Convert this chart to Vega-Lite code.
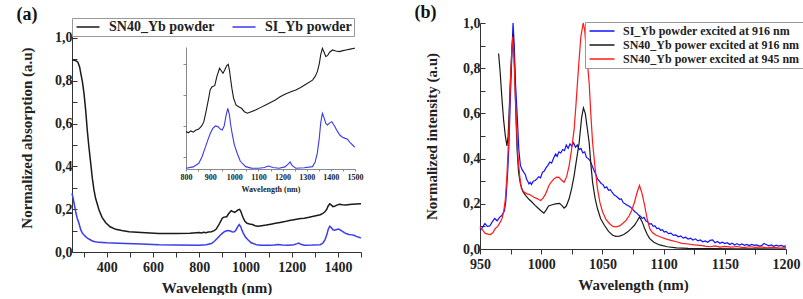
{
  "$schema": "https://vega.github.io/schema/vega-lite/v6.json",
  "background": "white",
  "padding": {"left": 16, "top": 4, "right": 0, "bottom": 0},
  "spacing": 119,
  "bounds": "flush",
  "resolve": {"scale": {"color": "independent"}, "legend": {"color": "independent"}},
  "config": {
    "font": "Liberation Serif, Times New Roman, serif",
    "view": {"stroke": null},
    "axis": {
      "labelFont": "Liberation Serif, Times New Roman, serif", "labelFontWeight": "bold", "labelFontSize": 14, "labelColor": "#222",
      "titleFont": "Liberation Serif, Times New Roman, serif", "titleFontWeight": "bold", "titleFontSize": 15, "titleColor": "#222",
      "domainColor": "#333", "tickColor": "#333", "grid": false
    },
    "legend": {
      "labelFont": "Liberation Serif, Times New Roman, serif", "labelFontWeight": "bold", "labelColor": "#222",
      "strokeColor": "#999", "fillColor": "white"
    },
    "title": {"font": "Liberation Serif, Times New Roman, serif", "fontSize": 18, "fontWeight": "bold", "anchor": "start", "frame": "bounds", "color": "#111"}
  },
  "datasets": {
    "abs": [
      {"series": "SN40_Yb powder", "nm": 250, "v": 0.897},
      {"series": "SN40_Yb powder", "nm": 262, "v": 0.896},
      {"series": "SN40_Yb powder", "nm": 275, "v": 0.888},
      {"series": "SN40_Yb powder", "nm": 283, "v": 0.865},
      {"series": "SN40_Yb powder", "nm": 288, "v": 0.835},
      {"series": "SN40_Yb powder", "nm": 295, "v": 0.796},
      {"series": "SN40_Yb powder", "nm": 302, "v": 0.74},
      {"series": "SN40_Yb powder", "nm": 309, "v": 0.664},
      {"series": "SN40_Yb powder", "nm": 316, "v": 0.57},
      {"series": "SN40_Yb powder", "nm": 323, "v": 0.492},
      {"series": "SN40_Yb powder", "nm": 331, "v": 0.414},
      {"series": "SN40_Yb powder", "nm": 338, "v": 0.344},
      {"series": "SN40_Yb powder", "nm": 345, "v": 0.29},
      {"series": "SN40_Yb powder", "nm": 352, "v": 0.251},
      {"series": "SN40_Yb powder", "nm": 367, "v": 0.196},
      {"series": "SN40_Yb powder", "nm": 380, "v": 0.162},
      {"series": "SN40_Yb powder", "nm": 396, "v": 0.137},
      {"series": "SN40_Yb powder", "nm": 415, "v": 0.118},
      {"series": "SN40_Yb powder", "nm": 439, "v": 0.106},
      {"series": "SN40_Yb powder", "nm": 465, "v": 0.1},
      {"series": "SN40_Yb powder", "nm": 497, "v": 0.095},
      {"series": "SN40_Yb powder", "nm": 550, "v": 0.091},
      {"series": "SN40_Yb powder", "nm": 626, "v": 0.087},
      {"series": "SN40_Yb powder", "nm": 700, "v": 0.087},
      {"series": "SN40_Yb powder", "nm": 760, "v": 0.088},
      {"series": "SN40_Yb powder", "nm": 800, "v": 0.091},
      {"series": "SN40_Yb powder", "nm": 810, "v": 0.089},
      {"series": "SN40_Yb powder", "nm": 820, "v": 0.092},
      {"series": "SN40_Yb powder", "nm": 830, "v": 0.09},
      {"series": "SN40_Yb powder", "nm": 840, "v": 0.093},
      {"series": "SN40_Yb powder", "nm": 853, "v": 0.095},
      {"series": "SN40_Yb powder", "nm": 865, "v": 0.1},
      {"series": "SN40_Yb powder", "nm": 874, "v": 0.107},
      {"series": "SN40_Yb powder", "nm": 884, "v": 0.125},
      {"series": "SN40_Yb powder", "nm": 894, "v": 0.145},
      {"series": "SN40_Yb powder", "nm": 900, "v": 0.158},
      {"series": "SN40_Yb powder", "nm": 907, "v": 0.163},
      {"series": "SN40_Yb powder", "nm": 913, "v": 0.164},
      {"series": "SN40_Yb powder", "nm": 919, "v": 0.165},
      {"series": "SN40_Yb powder", "nm": 928, "v": 0.18},
      {"series": "SN40_Yb powder", "nm": 939, "v": 0.193},
      {"series": "SN40_Yb powder", "nm": 946, "v": 0.189},
      {"series": "SN40_Yb powder", "nm": 953, "v": 0.185},
      {"series": "SN40_Yb powder", "nm": 960, "v": 0.19},
      {"series": "SN40_Yb powder", "nm": 968, "v": 0.197},
      {"series": "SN40_Yb powder", "nm": 975, "v": 0.1995},
      {"series": "SN40_Yb powder", "nm": 980, "v": 0.19},
      {"series": "SN40_Yb powder", "nm": 985, "v": 0.175},
      {"series": "SN40_Yb powder", "nm": 990, "v": 0.161},
      {"series": "SN40_Yb powder", "nm": 997, "v": 0.145},
      {"series": "SN40_Yb powder", "nm": 1007, "v": 0.134},
      {"series": "SN40_Yb powder", "nm": 1018, "v": 0.131},
      {"series": "SN40_Yb powder", "nm": 1030, "v": 0.1285},
      {"series": "SN40_Yb powder", "nm": 1042, "v": 0.123},
      {"series": "SN40_Yb powder", "nm": 1054, "v": 0.1205},
      {"series": "SN40_Yb powder", "nm": 1070, "v": 0.123},
      {"series": "SN40_Yb powder", "nm": 1090, "v": 0.126},
      {"series": "SN40_Yb powder", "nm": 1110, "v": 0.13},
      {"series": "SN40_Yb powder", "nm": 1130, "v": 0.134},
      {"series": "SN40_Yb powder", "nm": 1150, "v": 0.138},
      {"series": "SN40_Yb powder", "nm": 1170, "v": 0.142},
      {"series": "SN40_Yb powder", "nm": 1190, "v": 0.147},
      {"series": "SN40_Yb powder", "nm": 1210, "v": 0.151},
      {"series": "SN40_Yb powder", "nm": 1227, "v": 0.154},
      {"series": "SN40_Yb powder", "nm": 1240, "v": 0.156},
      {"series": "SN40_Yb powder", "nm": 1255, "v": 0.158},
      {"series": "SN40_Yb powder", "nm": 1275, "v": 0.162},
      {"series": "SN40_Yb powder", "nm": 1300, "v": 0.168},
      {"series": "SN40_Yb powder", "nm": 1324, "v": 0.174},
      {"series": "SN40_Yb powder", "nm": 1335, "v": 0.18},
      {"series": "SN40_Yb powder", "nm": 1344, "v": 0.1876},
      {"series": "SN40_Yb powder", "nm": 1352, "v": 0.2},
      {"series": "SN40_Yb powder", "nm": 1358, "v": 0.215},
      {"series": "SN40_Yb powder", "nm": 1365, "v": 0.2253},
      {"series": "SN40_Yb powder", "nm": 1372, "v": 0.219},
      {"series": "SN40_Yb powder", "nm": 1379, "v": 0.212},
      {"series": "SN40_Yb powder", "nm": 1386, "v": 0.2134},
      {"series": "SN40_Yb powder", "nm": 1395, "v": 0.219},
      {"series": "SN40_Yb powder", "nm": 1407, "v": 0.2226},
      {"series": "SN40_Yb powder", "nm": 1420, "v": 0.221},
      {"series": "SN40_Yb powder", "nm": 1435, "v": 0.22},
      {"series": "SN40_Yb powder", "nm": 1450, "v": 0.2215},
      {"series": "SN40_Yb powder", "nm": 1463, "v": 0.2226},
      {"series": "SN40_Yb powder", "nm": 1480, "v": 0.224},
      {"series": "SN40_Yb powder", "nm": 1497, "v": 0.2253},
      {"series": "SN40_Yb powder", "nm": 1500, "v": 0.2255},
      {"series": "SI_Yb powder", "nm": 250, "v": 0.274},
      {"series": "SI_Yb powder", "nm": 255, "v": 0.25},
      {"series": "SI_Yb powder", "nm": 260, "v": 0.222},
      {"series": "SI_Yb powder", "nm": 266, "v": 0.188},
      {"series": "SI_Yb powder", "nm": 272, "v": 0.16},
      {"series": "SI_Yb powder", "nm": 280, "v": 0.134},
      {"series": "SI_Yb powder", "nm": 288, "v": 0.103},
      {"series": "SI_Yb powder", "nm": 295, "v": 0.088},
      {"series": "SI_Yb powder", "nm": 302, "v": 0.079},
      {"series": "SI_Yb powder", "nm": 309, "v": 0.072},
      {"series": "SI_Yb powder", "nm": 320, "v": 0.062},
      {"series": "SI_Yb powder", "nm": 331, "v": 0.056},
      {"series": "SI_Yb powder", "nm": 338, "v": 0.051},
      {"series": "SI_Yb powder", "nm": 350, "v": 0.048},
      {"series": "SI_Yb powder", "nm": 367, "v": 0.045},
      {"series": "SI_Yb powder", "nm": 400, "v": 0.043},
      {"series": "SI_Yb powder", "nm": 482, "v": 0.04},
      {"series": "SI_Yb powder", "nm": 550, "v": 0.037},
      {"series": "SI_Yb powder", "nm": 626, "v": 0.034},
      {"series": "SI_Yb powder", "nm": 700, "v": 0.033},
      {"series": "SI_Yb powder", "nm": 800, "v": 0.0318},
      {"series": "SI_Yb powder", "nm": 830, "v": 0.034},
      {"series": "SI_Yb powder", "nm": 853, "v": 0.0398},
      {"series": "SI_Yb powder", "nm": 866, "v": 0.05},
      {"series": "SI_Yb powder", "nm": 881, "v": 0.0666},
      {"series": "SI_Yb powder", "nm": 891, "v": 0.078},
      {"series": "SI_Yb powder", "nm": 901, "v": 0.0882},
      {"series": "SI_Yb powder", "nm": 911, "v": 0.096},
      {"series": "SI_Yb powder", "nm": 922, "v": 0.1},
      {"series": "SI_Yb powder", "nm": 932, "v": 0.099},
      {"series": "SI_Yb powder", "nm": 942, "v": 0.095},
      {"series": "SI_Yb powder", "nm": 950, "v": 0.0935},
      {"series": "SI_Yb powder", "nm": 958, "v": 0.1},
      {"series": "SI_Yb powder", "nm": 965, "v": 0.115},
      {"series": "SI_Yb powder", "nm": 973, "v": 0.1285},
      {"series": "SI_Yb powder", "nm": 980, "v": 0.118},
      {"series": "SI_Yb powder", "nm": 985, "v": 0.102},
      {"series": "SI_Yb powder", "nm": 991, "v": 0.0882},
      {"series": "SI_Yb powder", "nm": 1000, "v": 0.07},
      {"series": "SI_Yb powder", "nm": 1012, "v": 0.056},
      {"series": "SI_Yb powder", "nm": 1025, "v": 0.043},
      {"series": "SI_Yb powder", "nm": 1047, "v": 0.0344},
      {"series": "SI_Yb powder", "nm": 1070, "v": 0.032},
      {"series": "SI_Yb powder", "nm": 1102, "v": 0.0318},
      {"series": "SI_Yb powder", "nm": 1125, "v": 0.033},
      {"series": "SI_Yb powder", "nm": 1141, "v": 0.0355},
      {"series": "SI_Yb powder", "nm": 1160, "v": 0.033},
      {"series": "SI_Yb powder", "nm": 1185, "v": 0.0318},
      {"series": "SI_Yb powder", "nm": 1210, "v": 0.034},
      {"series": "SI_Yb powder", "nm": 1224, "v": 0.039},
      {"series": "SI_Yb powder", "nm": 1231, "v": 0.042},
      {"series": "SI_Yb powder", "nm": 1240, "v": 0.036},
      {"series": "SI_Yb powder", "nm": 1255, "v": 0.0318},
      {"series": "SI_Yb powder", "nm": 1290, "v": 0.0325},
      {"series": "SI_Yb powder", "nm": 1324, "v": 0.0344},
      {"series": "SI_Yb powder", "nm": 1335, "v": 0.042},
      {"series": "SI_Yb powder", "nm": 1344, "v": 0.0565},
      {"series": "SI_Yb powder", "nm": 1352, "v": 0.08},
      {"series": "SI_Yb powder", "nm": 1358, "v": 0.105},
      {"series": "SI_Yb powder", "nm": 1365, "v": 0.1205},
      {"series": "SI_Yb powder", "nm": 1372, "v": 0.113},
      {"series": "SI_Yb powder", "nm": 1379, "v": 0.104},
      {"series": "SI_Yb powder", "nm": 1386, "v": 0.1016},
      {"series": "SI_Yb powder", "nm": 1395, "v": 0.105},
      {"series": "SI_Yb powder", "nm": 1404, "v": 0.107},
      {"series": "SI_Yb powder", "nm": 1415, "v": 0.1},
      {"series": "SI_Yb powder", "nm": 1428, "v": 0.0908},
      {"series": "SI_Yb powder", "nm": 1438, "v": 0.085},
      {"series": "SI_Yb powder", "nm": 1448, "v": 0.0818},
      {"series": "SI_Yb powder", "nm": 1460, "v": 0.08},
      {"series": "SI_Yb powder", "nm": 1469, "v": 0.0785},
      {"series": "SI_Yb powder", "nm": 1480, "v": 0.073},
      {"series": "SI_Yb powder", "nm": 1497, "v": 0.0666},
      {"series": "SI_Yb powder", "nm": 1500, "v": 0.066}
    ],
    "pl": [
      {"s": "SI_Yb powder excited at 916 nm", "nm": 950, "v": 0.083},
      {"s": "SI_Yb powder excited at 916 nm", "nm": 952, "v": 0.095},
      {"s": "SI_Yb powder excited at 916 nm", "nm": 954, "v": 0.113},
      {"s": "SI_Yb powder excited at 916 nm", "nm": 956, "v": 0.1},
      {"s": "SI_Yb powder excited at 916 nm", "nm": 958, "v": 0.102},
      {"s": "SI_Yb powder excited at 916 nm", "nm": 960, "v": 0.12},
      {"s": "SI_Yb powder excited at 916 nm", "nm": 962, "v": 0.135},
      {"s": "SI_Yb powder excited at 916 nm", "nm": 964, "v": 0.125},
      {"s": "SI_Yb powder excited at 916 nm", "nm": 966, "v": 0.14},
      {"s": "SI_Yb powder excited at 916 nm", "nm": 968, "v": 0.149},
      {"s": "SI_Yb powder excited at 916 nm", "nm": 970, "v": 0.17},
      {"s": "SI_Yb powder excited at 916 nm", "nm": 971, "v": 0.207},
      {"s": "SI_Yb powder excited at 916 nm", "nm": 972.5, "v": 0.33},
      {"s": "SI_Yb powder excited at 916 nm", "nm": 973.5, "v": 0.44},
      {"s": "SI_Yb powder excited at 916 nm", "nm": 975, "v": 0.7},
      {"s": "SI_Yb powder excited at 916 nm", "nm": 975.7, "v": 0.807},
      {"s": "SI_Yb powder excited at 916 nm", "nm": 977, "v": 1.0},
      {"s": "SI_Yb powder excited at 916 nm", "nm": 978, "v": 0.9},
      {"s": "SI_Yb powder excited at 916 nm", "nm": 979, "v": 0.734},
      {"s": "SI_Yb powder excited at 916 nm", "nm": 980.5, "v": 0.58},
      {"s": "SI_Yb powder excited at 916 nm", "nm": 981.7, "v": 0.44},
      {"s": "SI_Yb powder excited at 916 nm", "nm": 983, "v": 0.37},
      {"s": "SI_Yb powder excited at 916 nm", "nm": 984.5, "v": 0.35},
      {"s": "SI_Yb powder excited at 916 nm", "nm": 985.8, "v": 0.339},
      {"s": "SI_Yb powder excited at 916 nm", "nm": 987, "v": 0.33},
      {"s": "SI_Yb powder excited at 916 nm", "nm": 988, "v": 0.31},
      {"s": "SI_Yb powder excited at 916 nm", "nm": 989, "v": 0.3},
      {"s": "SI_Yb powder excited at 916 nm", "nm": 990, "v": 0.288},
      {"s": "SI_Yb powder excited at 916 nm", "nm": 991, "v": 0.295},
      {"s": "SI_Yb powder excited at 916 nm", "nm": 992, "v": 0.285},
      {"s": "SI_Yb powder excited at 916 nm", "nm": 993.5, "v": 0.3},
      {"s": "SI_Yb powder excited at 916 nm", "nm": 995, "v": 0.303},
      {"s": "SI_Yb powder excited at 916 nm", "nm": 996.5, "v": 0.31},
      {"s": "SI_Yb powder excited at 916 nm", "nm": 998, "v": 0.32},
      {"s": "SI_Yb powder excited at 916 nm", "nm": 999.5, "v": 0.315},
      {"s": "SI_Yb powder excited at 916 nm", "nm": 1001, "v": 0.339},
      {"s": "SI_Yb powder excited at 916 nm", "nm": 1002.5, "v": 0.345},
      {"s": "SI_Yb powder excited at 916 nm", "nm": 1004, "v": 0.36},
      {"s": "SI_Yb powder excited at 916 nm", "nm": 1005.5, "v": 0.37},
      {"s": "SI_Yb powder excited at 916 nm", "nm": 1007, "v": 0.385},
      {"s": "SI_Yb powder excited at 916 nm", "nm": 1008.5, "v": 0.38},
      {"s": "SI_Yb powder excited at 916 nm", "nm": 1010, "v": 0.4},
      {"s": "SI_Yb powder excited at 916 nm", "nm": 1011.8, "v": 0.42},
      {"s": "SI_Yb powder excited at 916 nm", "nm": 1013, "v": 0.41},
      {"s": "SI_Yb powder excited at 916 nm", "nm": 1014.5, "v": 0.43},
      {"s": "SI_Yb powder excited at 916 nm", "nm": 1016, "v": 0.425},
      {"s": "SI_Yb powder excited at 916 nm", "nm": 1017.5, "v": 0.44},
      {"s": "SI_Yb powder excited at 916 nm", "nm": 1019, "v": 0.435},
      {"s": "SI_Yb powder excited at 916 nm", "nm": 1020.5, "v": 0.46},
      {"s": "SI_Yb powder excited at 916 nm", "nm": 1022, "v": 0.445},
      {"s": "SI_Yb powder excited at 916 nm", "nm": 1023.5, "v": 0.465},
      {"s": "SI_Yb powder excited at 916 nm", "nm": 1025, "v": 0.455},
      {"s": "SI_Yb powder excited at 916 nm", "nm": 1026.5, "v": 0.47},
      {"s": "SI_Yb powder excited at 916 nm", "nm": 1028, "v": 0.45},
      {"s": "SI_Yb powder excited at 916 nm", "nm": 1029.5, "v": 0.46},
      {"s": "SI_Yb powder excited at 916 nm", "nm": 1031, "v": 0.44},
      {"s": "SI_Yb powder excited at 916 nm", "nm": 1032.5, "v": 0.445},
      {"s": "SI_Yb powder excited at 916 nm", "nm": 1034, "v": 0.425},
      {"s": "SI_Yb powder excited at 916 nm", "nm": 1035.5, "v": 0.43},
      {"s": "SI_Yb powder excited at 916 nm", "nm": 1037, "v": 0.405},
      {"s": "SI_Yb powder excited at 916 nm", "nm": 1038.5, "v": 0.4},
      {"s": "SI_Yb powder excited at 916 nm", "nm": 1040, "v": 0.39},
      {"s": "SI_Yb powder excited at 916 nm", "nm": 1041.5, "v": 0.37},
      {"s": "SI_Yb powder excited at 916 nm", "nm": 1043, "v": 0.35},
      {"s": "SI_Yb powder excited at 916 nm", "nm": 1044.7, "v": 0.33},
      {"s": "SI_Yb powder excited at 916 nm", "nm": 1046, "v": 0.31},
      {"s": "SI_Yb powder excited at 916 nm", "nm": 1047.5, "v": 0.3},
      {"s": "SI_Yb powder excited at 916 nm", "nm": 1049, "v": 0.29},
      {"s": "SI_Yb powder excited at 916 nm", "nm": 1050.5, "v": 0.285},
      {"s": "SI_Yb powder excited at 916 nm", "nm": 1052, "v": 0.27},
      {"s": "SI_Yb powder excited at 916 nm", "nm": 1053.5, "v": 0.275},
      {"s": "SI_Yb powder excited at 916 nm", "nm": 1055, "v": 0.26},
      {"s": "SI_Yb powder excited at 916 nm", "nm": 1056.5, "v": 0.262},
      {"s": "SI_Yb powder excited at 916 nm", "nm": 1058, "v": 0.25},
      {"s": "SI_Yb powder excited at 916 nm", "nm": 1059.5, "v": 0.24},
      {"s": "SI_Yb powder excited at 916 nm", "nm": 1061, "v": 0.235},
      {"s": "SI_Yb powder excited at 916 nm", "nm": 1062.5, "v": 0.228},
      {"s": "SI_Yb powder excited at 916 nm", "nm": 1064, "v": 0.22},
      {"s": "SI_Yb powder excited at 916 nm", "nm": 1065.5, "v": 0.222},
      {"s": "SI_Yb powder excited at 916 nm", "nm": 1067, "v": 0.205},
      {"s": "SI_Yb powder excited at 916 nm", "nm": 1068.5, "v": 0.2},
      {"s": "SI_Yb powder excited at 916 nm", "nm": 1070, "v": 0.195},
      {"s": "SI_Yb powder excited at 916 nm", "nm": 1071.5, "v": 0.19},
      {"s": "SI_Yb powder excited at 916 nm", "nm": 1073, "v": 0.185},
      {"s": "SI_Yb powder excited at 916 nm", "nm": 1074.8, "v": 0.175},
      {"s": "SI_Yb powder excited at 916 nm", "nm": 1076.5, "v": 0.165},
      {"s": "SI_Yb powder excited at 916 nm", "nm": 1078, "v": 0.16},
      {"s": "SI_Yb powder excited at 916 nm", "nm": 1079.5, "v": 0.15},
      {"s": "SI_Yb powder excited at 916 nm", "nm": 1081, "v": 0.145},
      {"s": "SI_Yb powder excited at 916 nm", "nm": 1082.5, "v": 0.135},
      {"s": "SI_Yb powder excited at 916 nm", "nm": 1084, "v": 0.14},
      {"s": "SI_Yb powder excited at 916 nm", "nm": 1085.5, "v": 0.125},
      {"s": "SI_Yb powder excited at 916 nm", "nm": 1087, "v": 0.12},
      {"s": "SI_Yb powder excited at 916 nm", "nm": 1088.5, "v": 0.11},
      {"s": "SI_Yb powder excited at 916 nm", "nm": 1090, "v": 0.112},
      {"s": "SI_Yb powder excited at 916 nm", "nm": 1091.5, "v": 0.1},
      {"s": "SI_Yb powder excited at 916 nm", "nm": 1093, "v": 0.102},
      {"s": "SI_Yb powder excited at 916 nm", "nm": 1094.5, "v": 0.09},
      {"s": "SI_Yb powder excited at 916 nm", "nm": 1096, "v": 0.092},
      {"s": "SI_Yb powder excited at 916 nm", "nm": 1097.5, "v": 0.083},
      {"s": "SI_Yb powder excited at 916 nm", "nm": 1099, "v": 0.085},
      {"s": "SI_Yb powder excited at 916 nm", "nm": 1100.5, "v": 0.075},
      {"s": "SI_Yb powder excited at 916 nm", "nm": 1102, "v": 0.078},
      {"s": "SI_Yb powder excited at 916 nm", "nm": 1104, "v": 0.068},
      {"s": "SI_Yb powder excited at 916 nm", "nm": 1106, "v": 0.07},
      {"s": "SI_Yb powder excited at 916 nm", "nm": 1108, "v": 0.06},
      {"s": "SI_Yb powder excited at 916 nm", "nm": 1110, "v": 0.062},
      {"s": "SI_Yb powder excited at 916 nm", "nm": 1112, "v": 0.054},
      {"s": "SI_Yb powder excited at 916 nm", "nm": 1114, "v": 0.058},
      {"s": "SI_Yb powder excited at 916 nm", "nm": 1116, "v": 0.048},
      {"s": "SI_Yb powder excited at 916 nm", "nm": 1118, "v": 0.052},
      {"s": "SI_Yb powder excited at 916 nm", "nm": 1120, "v": 0.044},
      {"s": "SI_Yb powder excited at 916 nm", "nm": 1122, "v": 0.048},
      {"s": "SI_Yb powder excited at 916 nm", "nm": 1124, "v": 0.04},
      {"s": "SI_Yb powder excited at 916 nm", "nm": 1126, "v": 0.045},
      {"s": "SI_Yb powder excited at 916 nm", "nm": 1128, "v": 0.036},
      {"s": "SI_Yb powder excited at 916 nm", "nm": 1130, "v": 0.04},
      {"s": "SI_Yb powder excited at 916 nm", "nm": 1132, "v": 0.032},
      {"s": "SI_Yb powder excited at 916 nm", "nm": 1134, "v": 0.036},
      {"s": "SI_Yb powder excited at 916 nm", "nm": 1136, "v": 0.03},
      {"s": "SI_Yb powder excited at 916 nm", "nm": 1138, "v": 0.038},
      {"s": "SI_Yb powder excited at 916 nm", "nm": 1140, "v": 0.04},
      {"s": "SI_Yb powder excited at 916 nm", "nm": 1142, "v": 0.028},
      {"s": "SI_Yb powder excited at 916 nm", "nm": 1144, "v": 0.033},
      {"s": "SI_Yb powder excited at 916 nm", "nm": 1146, "v": 0.025},
      {"s": "SI_Yb powder excited at 916 nm", "nm": 1148, "v": 0.03},
      {"s": "SI_Yb powder excited at 916 nm", "nm": 1150, "v": 0.024},
      {"s": "SI_Yb powder excited at 916 nm", "nm": 1152, "v": 0.028},
      {"s": "SI_Yb powder excited at 916 nm", "nm": 1154, "v": 0.02},
      {"s": "SI_Yb powder excited at 916 nm", "nm": 1156, "v": 0.026},
      {"s": "SI_Yb powder excited at 916 nm", "nm": 1158, "v": 0.018},
      {"s": "SI_Yb powder excited at 916 nm", "nm": 1160, "v": 0.024},
      {"s": "SI_Yb powder excited at 916 nm", "nm": 1162, "v": 0.017},
      {"s": "SI_Yb powder excited at 916 nm", "nm": 1164, "v": 0.022},
      {"s": "SI_Yb powder excited at 916 nm", "nm": 1166, "v": 0.016},
      {"s": "SI_Yb powder excited at 916 nm", "nm": 1168, "v": 0.02},
      {"s": "SI_Yb powder excited at 916 nm", "nm": 1170, "v": 0.015},
      {"s": "SI_Yb powder excited at 916 nm", "nm": 1172, "v": 0.02},
      {"s": "SI_Yb powder excited at 916 nm", "nm": 1174, "v": 0.016},
      {"s": "SI_Yb powder excited at 916 nm", "nm": 1176, "v": 0.018},
      {"s": "SI_Yb powder excited at 916 nm", "nm": 1178, "v": 0.013},
      {"s": "SI_Yb powder excited at 916 nm", "nm": 1180, "v": 0.015},
      {"s": "SI_Yb powder excited at 916 nm", "nm": 1182, "v": 0.024},
      {"s": "SI_Yb powder excited at 916 nm", "nm": 1184, "v": 0.019},
      {"s": "SI_Yb powder excited at 916 nm", "nm": 1186, "v": 0.014},
      {"s": "SI_Yb powder excited at 916 nm", "nm": 1188, "v": 0.018},
      {"s": "SI_Yb powder excited at 916 nm", "nm": 1190, "v": 0.012},
      {"s": "SI_Yb powder excited at 916 nm", "nm": 1192, "v": 0.017},
      {"s": "SI_Yb powder excited at 916 nm", "nm": 1194, "v": 0.013},
      {"s": "SI_Yb powder excited at 916 nm", "nm": 1196, "v": 0.016},
      {"s": "SI_Yb powder excited at 916 nm", "nm": 1198, "v": 0.012},
      {"s": "SI_Yb powder excited at 916 nm", "nm": 1200, "v": 0.014},
      {"s": "SN40_Yb power excited at 916 nm", "nm": 965.2, "v": 0.865},
      {"s": "SN40_Yb power excited at 916 nm", "nm": 966.5, "v": 0.78},
      {"s": "SN40_Yb power excited at 916 nm", "nm": 968, "v": 0.66},
      {"s": "SN40_Yb power excited at 916 nm", "nm": 969.3, "v": 0.57},
      {"s": "SN40_Yb power excited at 916 nm", "nm": 970.7, "v": 0.5},
      {"s": "SN40_Yb power excited at 916 nm", "nm": 972, "v": 0.456},
      {"s": "SN40_Yb power excited at 916 nm", "nm": 973, "v": 0.5},
      {"s": "SN40_Yb power excited at 916 nm", "nm": 974.5, "v": 0.7},
      {"s": "SN40_Yb power excited at 916 nm", "nm": 976, "v": 0.88},
      {"s": "SN40_Yb power excited at 916 nm", "nm": 977, "v": 0.95},
      {"s": "SN40_Yb power excited at 916 nm", "nm": 978, "v": 0.85},
      {"s": "SN40_Yb power excited at 916 nm", "nm": 979, "v": 0.65},
      {"s": "SN40_Yb power excited at 916 nm", "nm": 980.3, "v": 0.44},
      {"s": "SN40_Yb power excited at 916 nm", "nm": 981.5, "v": 0.34},
      {"s": "SN40_Yb power excited at 916 nm", "nm": 983, "v": 0.288},
      {"s": "SN40_Yb power excited at 916 nm", "nm": 985, "v": 0.255},
      {"s": "SN40_Yb power excited at 916 nm", "nm": 987.2, "v": 0.237},
      {"s": "SN40_Yb power excited at 916 nm", "nm": 990, "v": 0.22},
      {"s": "SN40_Yb power excited at 916 nm", "nm": 992.6, "v": 0.207},
      {"s": "SN40_Yb power excited at 916 nm", "nm": 995, "v": 0.193},
      {"s": "SN40_Yb power excited at 916 nm", "nm": 998, "v": 0.178},
      {"s": "SN40_Yb power excited at 916 nm", "nm": 1000, "v": 0.168},
      {"s": "SN40_Yb power excited at 916 nm", "nm": 1002.2, "v": 0.159},
      {"s": "SN40_Yb power excited at 916 nm", "nm": 1004, "v": 0.172},
      {"s": "SN40_Yb power excited at 916 nm", "nm": 1006, "v": 0.19},
      {"s": "SN40_Yb power excited at 916 nm", "nm": 1009, "v": 0.196},
      {"s": "SN40_Yb power excited at 916 nm", "nm": 1011.8, "v": 0.2},
      {"s": "SN40_Yb power excited at 916 nm", "nm": 1015, "v": 0.202},
      {"s": "SN40_Yb power excited at 916 nm", "nm": 1017, "v": 0.192},
      {"s": "SN40_Yb power excited at 916 nm", "nm": 1018.7, "v": 0.181},
      {"s": "SN40_Yb power excited at 916 nm", "nm": 1020.5, "v": 0.19},
      {"s": "SN40_Yb power excited at 916 nm", "nm": 1022.8, "v": 0.222},
      {"s": "SN40_Yb power excited at 916 nm", "nm": 1025, "v": 0.27},
      {"s": "SN40_Yb power excited at 916 nm", "nm": 1026.9, "v": 0.325},
      {"s": "SN40_Yb power excited at 916 nm", "nm": 1029, "v": 0.4},
      {"s": "SN40_Yb power excited at 916 nm", "nm": 1031, "v": 0.47},
      {"s": "SN40_Yb power excited at 916 nm", "nm": 1033, "v": 0.58},
      {"s": "SN40_Yb power excited at 916 nm", "nm": 1034.5, "v": 0.624},
      {"s": "SN40_Yb power excited at 916 nm", "nm": 1036, "v": 0.6},
      {"s": "SN40_Yb power excited at 916 nm", "nm": 1037.5, "v": 0.54},
      {"s": "SN40_Yb power excited at 916 nm", "nm": 1039.2, "v": 0.47},
      {"s": "SN40_Yb power excited at 916 nm", "nm": 1040.5, "v": 0.38},
      {"s": "SN40_Yb power excited at 916 nm", "nm": 1042, "v": 0.295},
      {"s": "SN40_Yb power excited at 916 nm", "nm": 1044, "v": 0.225},
      {"s": "SN40_Yb power excited at 916 nm", "nm": 1046, "v": 0.178},
      {"s": "SN40_Yb power excited at 916 nm", "nm": 1048.5, "v": 0.135},
      {"s": "SN40_Yb power excited at 916 nm", "nm": 1051.6, "v": 0.105},
      {"s": "SN40_Yb power excited at 916 nm", "nm": 1055, "v": 0.078},
      {"s": "SN40_Yb power excited at 916 nm", "nm": 1058.4, "v": 0.061},
      {"s": "SN40_Yb power excited at 916 nm", "nm": 1061, "v": 0.056},
      {"s": "SN40_Yb power excited at 916 nm", "nm": 1064, "v": 0.057},
      {"s": "SN40_Yb power excited at 916 nm", "nm": 1067.5, "v": 0.064},
      {"s": "SN40_Yb power excited at 916 nm", "nm": 1070.7, "v": 0.076},
      {"s": "SN40_Yb power excited at 916 nm", "nm": 1073.5, "v": 0.09},
      {"s": "SN40_Yb power excited at 916 nm", "nm": 1076.2, "v": 0.105},
      {"s": "SN40_Yb power excited at 916 nm", "nm": 1078.5, "v": 0.125},
      {"s": "SN40_Yb power excited at 916 nm", "nm": 1080.3, "v": 0.142},
      {"s": "SN40_Yb power excited at 916 nm", "nm": 1082.5, "v": 0.12},
      {"s": "SN40_Yb power excited at 916 nm", "nm": 1084.5, "v": 0.091},
      {"s": "SN40_Yb power excited at 916 nm", "nm": 1086.5, "v": 0.066},
      {"s": "SN40_Yb power excited at 916 nm", "nm": 1088.5, "v": 0.047},
      {"s": "SN40_Yb power excited at 916 nm", "nm": 1092, "v": 0.03},
      {"s": "SN40_Yb power excited at 916 nm", "nm": 1096.8, "v": 0.018},
      {"s": "SN40_Yb power excited at 916 nm", "nm": 1103, "v": 0.01},
      {"s": "SN40_Yb power excited at 916 nm", "nm": 1110.5, "v": 0.005},
      {"s": "SN40_Yb power excited at 916 nm", "nm": 1120, "v": 0.003},
      {"s": "SN40_Yb power excited at 916 nm", "nm": 1140, "v": 0.002},
      {"s": "SN40_Yb power excited at 916 nm", "nm": 1160, "v": 0.001},
      {"s": "SN40_Yb power excited at 916 nm", "nm": 1200, "v": 0.0},
      {"s": "SN40_Yb power excited at 945 nm", "nm": 950, "v": 0.098},
      {"s": "SN40_Yb power excited at 945 nm", "nm": 952, "v": 0.085},
      {"s": "SN40_Yb power excited at 945 nm", "nm": 954.3, "v": 0.069},
      {"s": "SN40_Yb power excited at 945 nm", "nm": 956.5, "v": 0.066},
      {"s": "SN40_Yb power excited at 945 nm", "nm": 958.4, "v": 0.064},
      {"s": "SN40_Yb power excited at 945 nm", "nm": 960.5, "v": 0.072},
      {"s": "SN40_Yb power excited at 945 nm", "nm": 962.5, "v": 0.091},
      {"s": "SN40_Yb power excited at 945 nm", "nm": 964.5, "v": 0.1},
      {"s": "SN40_Yb power excited at 945 nm", "nm": 966.6, "v": 0.12},
      {"s": "SN40_Yb power excited at 945 nm", "nm": 968, "v": 0.135},
      {"s": "SN40_Yb power excited at 945 nm", "nm": 969.3, "v": 0.164},
      {"s": "SN40_Yb power excited at 945 nm", "nm": 970.7, "v": 0.22},
      {"s": "SN40_Yb power excited at 945 nm", "nm": 972, "v": 0.325},
      {"s": "SN40_Yb power excited at 945 nm", "nm": 973.5, "v": 0.5},
      {"s": "SN40_Yb power excited at 945 nm", "nm": 974.8, "v": 0.734},
      {"s": "SN40_Yb power excited at 945 nm", "nm": 976, "v": 0.88},
      {"s": "SN40_Yb power excited at 945 nm", "nm": 976.7, "v": 0.94},
      {"s": "SN40_Yb power excited at 945 nm", "nm": 977.5, "v": 0.88},
      {"s": "SN40_Yb power excited at 945 nm", "nm": 979, "v": 0.66},
      {"s": "SN40_Yb power excited at 945 nm", "nm": 980, "v": 0.52},
      {"s": "SN40_Yb power excited at 945 nm", "nm": 981, "v": 0.412},
      {"s": "SN40_Yb power excited at 945 nm", "nm": 982.5, "v": 0.32},
      {"s": "SN40_Yb power excited at 945 nm", "nm": 983.9, "v": 0.266},
      {"s": "SN40_Yb power excited at 945 nm", "nm": 986, "v": 0.252},
      {"s": "SN40_Yb power excited at 945 nm", "nm": 988.5, "v": 0.244},
      {"s": "SN40_Yb power excited at 945 nm", "nm": 991, "v": 0.24},
      {"s": "SN40_Yb power excited at 945 nm", "nm": 994, "v": 0.229},
      {"s": "SN40_Yb power excited at 945 nm", "nm": 997, "v": 0.222},
      {"s": "SN40_Yb power excited at 945 nm", "nm": 999.5, "v": 0.215},
      {"s": "SN40_Yb power excited at 945 nm", "nm": 1001.5, "v": 0.225},
      {"s": "SN40_Yb power excited at 945 nm", "nm": 1003.6, "v": 0.244},
      {"s": "SN40_Yb power excited at 945 nm", "nm": 1005, "v": 0.262},
      {"s": "SN40_Yb power excited at 945 nm", "nm": 1006.3, "v": 0.281},
      {"s": "SN40_Yb power excited at 945 nm", "nm": 1008, "v": 0.295},
      {"s": "SN40_Yb power excited at 945 nm", "nm": 1010.4, "v": 0.31},
      {"s": "SN40_Yb power excited at 945 nm", "nm": 1012.5, "v": 0.318},
      {"s": "SN40_Yb power excited at 945 nm", "nm": 1014.6, "v": 0.317},
      {"s": "SN40_Yb power excited at 945 nm", "nm": 1016.5, "v": 0.305},
      {"s": "SN40_Yb power excited at 945 nm", "nm": 1018.7, "v": 0.295},
      {"s": "SN40_Yb power excited at 945 nm", "nm": 1020.8, "v": 0.32},
      {"s": "SN40_Yb power excited at 945 nm", "nm": 1022.8, "v": 0.368},
      {"s": "SN40_Yb power excited at 945 nm", "nm": 1024.8, "v": 0.44},
      {"s": "SN40_Yb power excited at 945 nm", "nm": 1026.9, "v": 0.529},
      {"s": "SN40_Yb power excited at 945 nm", "nm": 1028.3, "v": 0.63},
      {"s": "SN40_Yb power excited at 945 nm", "nm": 1029.6, "v": 0.734},
      {"s": "SN40_Yb power excited at 945 nm", "nm": 1031, "v": 0.84},
      {"s": "SN40_Yb power excited at 945 nm", "nm": 1032.4, "v": 0.94},
      {"s": "SN40_Yb power excited at 945 nm", "nm": 1034.3, "v": 1.0},
      {"s": "SN40_Yb power excited at 945 nm", "nm": 1035.5, "v": 0.97},
      {"s": "SN40_Yb power excited at 945 nm", "nm": 1037, "v": 0.87},
      {"s": "SN40_Yb power excited at 945 nm", "nm": 1039.2, "v": 0.734},
      {"s": "SN40_Yb power excited at 945 nm", "nm": 1040.5, "v": 0.6},
      {"s": "SN40_Yb power excited at 945 nm", "nm": 1042, "v": 0.47},
      {"s": "SN40_Yb power excited at 945 nm", "nm": 1044, "v": 0.36},
      {"s": "SN40_Yb power excited at 945 nm", "nm": 1046, "v": 0.266},
      {"s": "SN40_Yb power excited at 945 nm", "nm": 1048, "v": 0.205},
      {"s": "SN40_Yb power excited at 945 nm", "nm": 1050.2, "v": 0.164},
      {"s": "SN40_Yb power excited at 945 nm", "nm": 1053, "v": 0.13},
      {"s": "SN40_Yb power excited at 945 nm", "nm": 1055.7, "v": 0.113},
      {"s": "SN40_Yb power excited at 945 nm", "nm": 1058.5, "v": 0.1},
      {"s": "SN40_Yb power excited at 945 nm", "nm": 1061.2, "v": 0.098},
      {"s": "SN40_Yb power excited at 945 nm", "nm": 1064, "v": 0.102},
      {"s": "SN40_Yb power excited at 945 nm", "nm": 1066.6, "v": 0.113},
      {"s": "SN40_Yb power excited at 945 nm", "nm": 1069.5, "v": 0.128},
      {"s": "SN40_Yb power excited at 945 nm", "nm": 1072.1, "v": 0.149},
      {"s": "SN40_Yb power excited at 945 nm", "nm": 1074.2, "v": 0.175},
      {"s": "SN40_Yb power excited at 945 nm", "nm": 1076.2, "v": 0.207},
      {"s": "SN40_Yb power excited at 945 nm", "nm": 1078.3, "v": 0.25},
      {"s": "SN40_Yb power excited at 945 nm", "nm": 1080.3, "v": 0.281},
      {"s": "SN40_Yb power excited at 945 nm", "nm": 1082.4, "v": 0.245},
      {"s": "SN40_Yb power excited at 945 nm", "nm": 1084.5, "v": 0.193},
      {"s": "SN40_Yb power excited at 945 nm", "nm": 1086.5, "v": 0.135},
      {"s": "SN40_Yb power excited at 945 nm", "nm": 1088.6, "v": 0.091},
      {"s": "SN40_Yb power excited at 945 nm", "nm": 1091, "v": 0.072},
      {"s": "SN40_Yb power excited at 945 nm", "nm": 1094, "v": 0.061},
      {"s": "SN40_Yb power excited at 945 nm", "nm": 1098, "v": 0.052},
      {"s": "SN40_Yb power excited at 945 nm", "nm": 1102.3, "v": 0.044},
      {"s": "SN40_Yb power excited at 945 nm", "nm": 1106, "v": 0.038},
      {"s": "SN40_Yb power excited at 945 nm", "nm": 1110.5, "v": 0.032},
      {"s": "SN40_Yb power excited at 945 nm", "nm": 1115, "v": 0.025},
      {"s": "SN40_Yb power excited at 945 nm", "nm": 1120, "v": 0.022},
      {"s": "SN40_Yb power excited at 945 nm", "nm": 1125, "v": 0.018},
      {"s": "SN40_Yb power excited at 945 nm", "nm": 1130, "v": 0.016},
      {"s": "SN40_Yb power excited at 945 nm", "nm": 1135, "v": 0.012},
      {"s": "SN40_Yb power excited at 945 nm", "nm": 1138, "v": 0.01},
      {"s": "SN40_Yb power excited at 945 nm", "nm": 1142, "v": 0.014},
      {"s": "SN40_Yb power excited at 945 nm", "nm": 1146, "v": 0.008},
      {"s": "SN40_Yb power excited at 945 nm", "nm": 1150, "v": 0.012},
      {"s": "SN40_Yb power excited at 945 nm", "nm": 1155, "v": 0.008},
      {"s": "SN40_Yb power excited at 945 nm", "nm": 1160, "v": 0.011},
      {"s": "SN40_Yb power excited at 945 nm", "nm": 1165, "v": 0.006},
      {"s": "SN40_Yb power excited at 945 nm", "nm": 1170, "v": 0.01},
      {"s": "SN40_Yb power excited at 945 nm", "nm": 1175, "v": 0.007},
      {"s": "SN40_Yb power excited at 945 nm", "nm": 1180, "v": 0.009},
      {"s": "SN40_Yb power excited at 945 nm", "nm": 1185, "v": 0.005},
      {"s": "SN40_Yb power excited at 945 nm", "nm": 1190, "v": 0.008},
      {"s": "SN40_Yb power excited at 945 nm", "nm": 1195, "v": 0.004},
      {"s": "SN40_Yb power excited at 945 nm", "nm": 1200, "v": 0.006}
    ]
  },
  "hconcat": [
    {
      "title": {"text": "(a)", "offset": -6, "dx": -3},
      "width": 289,
      "height": 229,
      "data": {"name": "abs"},
      "layer": [
        {
          "mark": {"type": "line", "strokeWidth": 1.5},
          "encoding": {
            "x": {"field": "nm", "type": "quantitative",
              "scale": {"domain": [250, 1500], "nice": false},
              "axis": {"orient": "bottom", "title": "Wavelength (nm)", "values": [300, 400, 500, 600, 700, 800, 900, 1000, 1100, 1200, 1300, 1400, 1500],
                "labelExpr": "datum.value % 200 == 0 && datum.value < 1500 ? format(datum.value, 'd') : ''", "tickSize": 5, "labelPadding": 3, "titlePadding": 6, "labelFlush": false}},
            "y": {"field": "v", "type": "quantitative",
              "scale": {"domain": [0, 1.07], "nice": false},
              "axis": {"orient": "left", "title": "Normalized absorption (a.u)", "values": [0, 0.1, 0.2, 0.3, 0.4, 0.5, 0.6, 0.7, 0.8, 0.9, 1.0],
                "labelExpr": "round(datum.value*10) % 2 == 0 ? replace(format(datum.value, '.1f'), '.', ',') : ''", "tickSize": -5, "labelPadding": 5, "titlePadding": 20}},
            "color": {"field": "series", "type": "nominal",
              "scale": {"domain": ["SN40_Yb powder", "SI_Yb powder"], "range": ["#1a1a1a", "#3a3aee"]},
              "legend": {"title": null, "orient": "none", "legendX": 0, "legendY": -5, "direction": "horizontal",
                "symbolType": "M-2.3,0L2.3,0", "symbolSize": 100, "symbolOffset": 7, "symbolStrokeWidth": 1.5,
                "labelFontSize": 14, "padding": 2, "columnPadding": 14, "labelOffset": 14}}
          }
        },
        {
          "transform": [{"filter": "datum.nm >= 800"}],
          "mark": {"type": "line", "strokeWidth": 1.1},
          "encoding": {
            "x": {"field": "nm", "type": "quantitative",
              "scale": {"domain": [800, 1500], "range": [114, 283], "nice": false},
              "axis": {"orient": "bottom", "offset": -83, "title": "Wavelength (nm)", "values": [800, 850, 900, 950, 1000, 1050, 1100, 1150, 1200, 1250, 1300, 1350, 1400, 1450, 1500],
                "labelExpr": "datum.value % 100 == 0 ? format(datum.value, 'd') : ''", "labelFontSize": 8, "titleFontSize": 8, "tickSize": 2, "labelPadding": 2, "titlePadding": 4, "labelFlush": false, "domainColor": "#888", "tickColor": "#888"}},
            "y": {"field": "v", "type": "quantitative",
              "scale": {"domain": [0.0306, 0.2274], "range": [146, 24], "nice": false, "zero": false},
              "axis": {"orient": "left", "offset": -114, "title": null, "labels": false, "values": [0.05, 0.1, 0.15, 0.2], "tickSize": 3, "domainColor": "#888", "tickColor": "#888"}},
            "color": {"field": "series", "type": "nominal", "legend": null}
          }
        }
      ],
      "resolve": {"scale": {"x": "independent", "y": "independent"}, "axis": {"x": "independent", "y": "independent"}}
    },
    {
      "title": {"text": "(b)", "offset": -6, "dx": -10},
      "width": 306,
      "height": 226,
      "data": {"name": "pl"},
      "mark": {"type": "line", "strokeWidth": 1.2},
      "encoding": {
        "x": {"field": "nm", "type": "quantitative",
          "scale": {"domain": [950, 1200], "nice": false},
          "axis": {"title": "Wavelength (nm)", "values": [950, 975, 1000, 1025, 1050, 1075, 1100, 1125, 1150, 1175, 1200],
            "labelExpr": "datum.value % 50 == 0 ? format(datum.value, 'd') : ''", "tickSize": 5, "labelPadding": 3, "titlePadding": 6, "labelFlush": false}},
        "y": {"field": "v", "type": "quantitative",
          "scale": {"domain": [0, 1], "nice": false},
          "axis": {"title": "Normalized intensity (a.u)", "values": [0, 0.1, 0.2, 0.3, 0.4, 0.5, 0.6, 0.7, 0.8, 0.9, 1.0],
            "labelExpr": "round(datum.value*10) % 2 == 0 ? replace(format(datum.value, '.1f'), '.', ',') : ''", "tickSize": -5, "labelPadding": 5, "titlePadding": 23}},
        "color": {"field": "s", "type": "nominal",
          "scale": {"domain": ["SI_Yb powder excited at 916 nm", "SN40_Yb power excited at 916 nm", "SN40_Yb power excited at 945 nm"], "range": ["#1010ff", "#1a1a1a", "#ff1a1a"]},
          "legend": {"title": null, "orient": "none", "legendX": 105, "legendY": -1, "direction": "vertical",
            "symbolType": "M-2.5,0L2.5,0", "symbolSize": 100, "symbolOffset": 8, "symbolStrokeWidth": 1.5,
            "labelFontSize": 12, "padding": 3, "rowPadding": 2, "labelOffset": 15, "labelLimit": 300}}
      }
    }
  ]
}
